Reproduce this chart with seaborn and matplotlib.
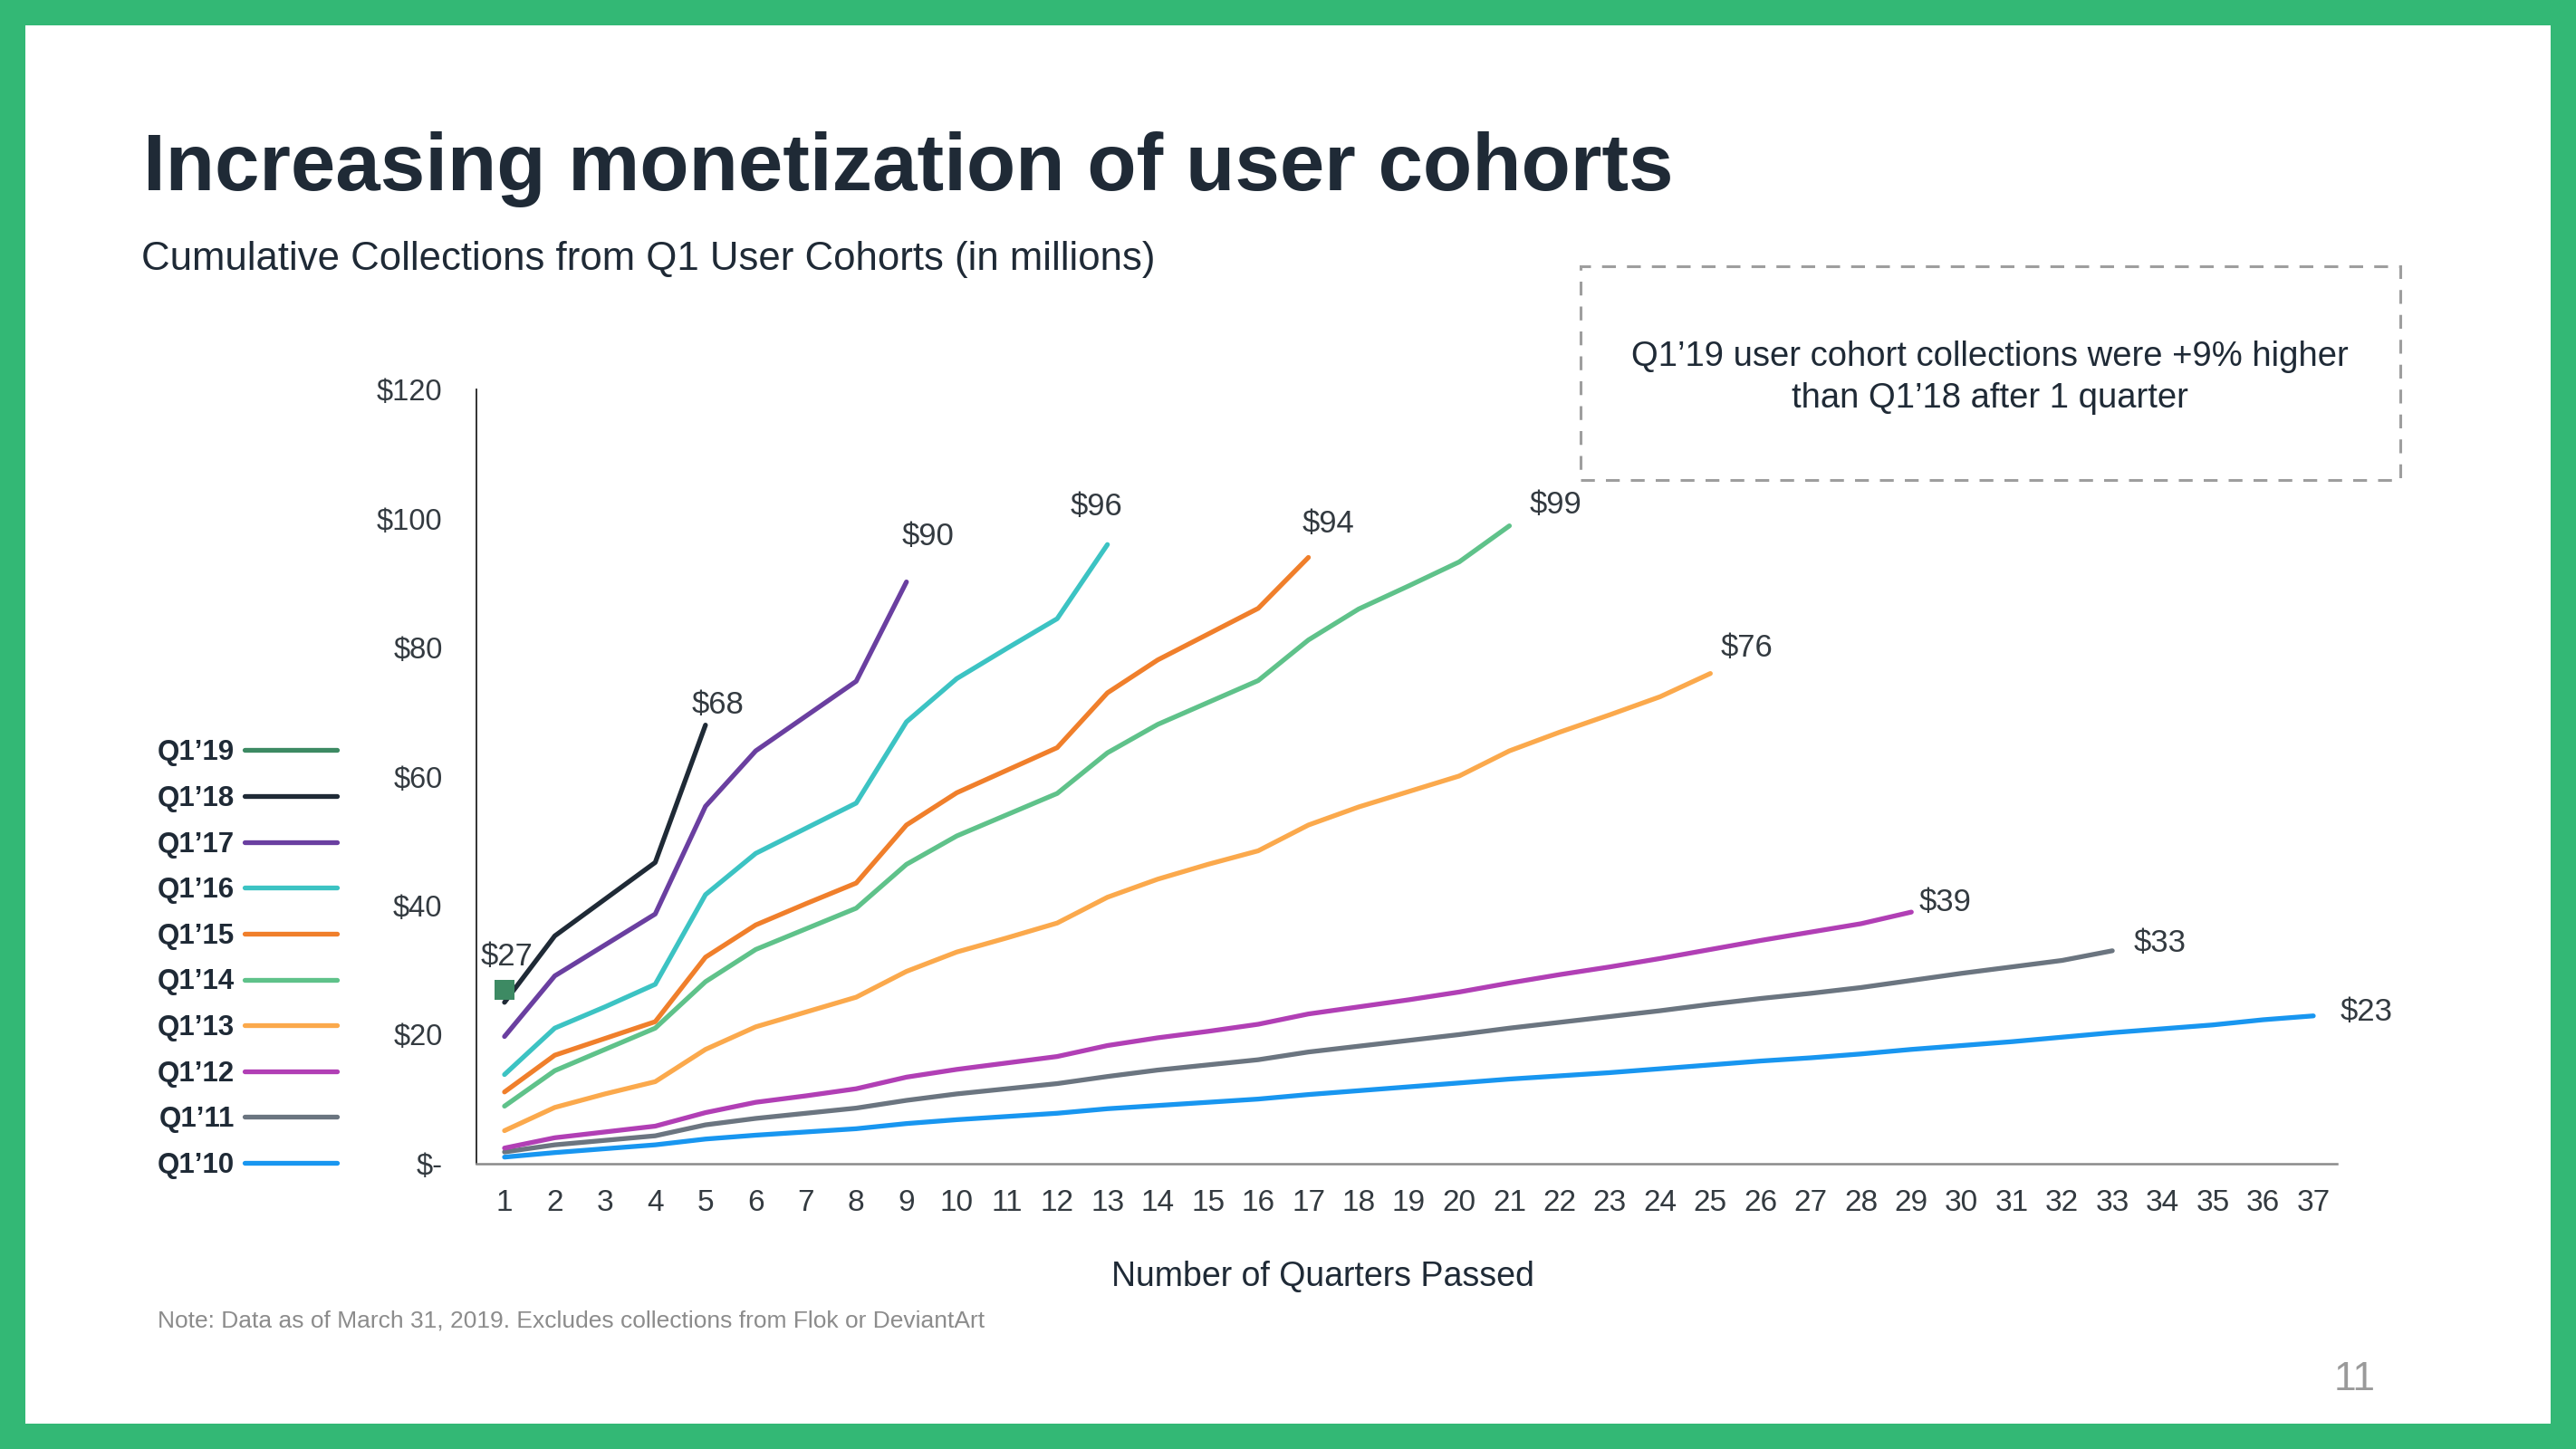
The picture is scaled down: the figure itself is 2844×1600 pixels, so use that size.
import matplotlib
matplotlib.use("Agg")
import matplotlib.pyplot as plt
from matplotlib.lines import Line2D
from matplotlib.patches import Rectangle
from matplotlib.ticker import FuncFormatter
import seaborn as sns
import pandas as pd

# cumulative collections ($M) by quarters passed
cohorts = ["Q1’19", "Q1’18", "Q1’17", "Q1’16", "Q1’15",
           "Q1’14", "Q1’13", "Q1’12", "Q1’11", "Q1’10"]
colors = ["#3d8a63", "#1f2a36", "#6a3fa0", "#3cc3c3", "#f07f2b",
          "#5fc28a", "#fba94c", "#b13fb5", "#6b7580", "#1896f0"]

q1_19 = [27.0]
q1_18 = [25.0, 35.3, 41.0, 46.7, 68.0]
q1_17 = [19.7, 29.1, 33.9, 38.7, 55.4, 64.0, 69.4, 74.8, 90.2]
q1_16 = [13.8, 21.0, 24.3, 27.8, 41.7, 48.1, 52.0, 55.9, 68.5, 75.2, 79.9, 84.5, 96.0]
q1_15 = [11.1, 16.8, 19.4, 22.0, 32.0, 37.0, 40.3, 43.5, 52.5, 57.5, 61.0, 64.5,
         73.0, 78.1, 82.1, 86.1, 94.0]
q1_14 = [8.9, 14.4, 17.7, 21.0, 28.2, 33.2, 36.4, 39.6, 46.4, 50.8, 54.1, 57.4,
         63.7, 68.1, 71.5, 74.9, 81.2, 86.0, 89.6, 93.3, 98.9]
q1_13 = [5.1, 8.7, 10.8, 12.7, 17.7, 21.2, 23.5, 25.8, 29.8, 32.8, 35.0, 37.3,
         41.3, 44.1, 46.4, 48.5, 52.5, 55.3, 57.7, 60.1, 64.0, 66.9, 69.6, 72.4, 76.0]
q1_12 = [2.4, 4.0, 4.9, 5.8, 7.9, 9.5, 10.5, 11.6, 13.4, 14.6, 15.6, 16.6,
         18.3, 19.5, 20.5, 21.6, 23.2, 24.3, 25.4, 26.6, 28.0, 29.3, 30.5, 31.8,
         33.2, 34.6, 35.9, 37.2, 39.0]
q1_11 = [1.8, 2.9, 3.6, 4.3, 6.0, 7.0, 7.8, 8.6, 9.8, 10.8, 11.6, 12.4,
         13.5, 14.5, 15.3, 16.1, 17.3, 18.2, 19.1, 20.0, 21.0, 21.9, 22.8, 23.7,
         24.7, 25.6, 26.4, 27.3, 28.4, 29.5, 30.5, 31.5, 33.0]
q1_10 = [1.0, 1.7, 2.3, 2.9, 3.8, 4.4, 4.9, 5.4, 6.2, 6.8, 7.3, 7.8,
         8.5, 9.0, 9.5, 10.0, 10.7, 11.3, 11.9, 12.5, 13.1, 13.6, 14.1, 14.7,
         15.3, 15.9, 16.4, 17.0, 17.7, 18.3, 18.9, 19.6, 20.3, 20.9, 21.5, 22.3, 22.9]

series = [q1_19, q1_18, q1_17, q1_16, q1_15, q1_14, q1_13, q1_12, q1_11, q1_10]
y_ticks = [0, 20, 40, 60, 80, 100, 120]

# end-label offsets in points
label_offsets = [(2, 26), (10, 16), (17, 36), (-9, 30), (16, 27),
                 (37, 17), (29, 20), (27, 8), (38, 6), (42, 3)]

rows = []
for name, vals in zip(cohorts, series):
    for i, v in enumerate(vals):
        rows.append({"cohort": name, "quarter": i + 1, "value": v})
df = pd.DataFrame(rows)
palette = dict(zip(cohorts, colors))

sns.set_style("white")
plt.rcParams["font.family"] = ["Liberation Sans", "DejaVu Sans"]

NAVY = "#1f2a36"
fig = plt.figure(figsize=(28.44, 16), dpi=100)
fig.patch.set_facecolor("#33b875")
fig.patches.append(Rectangle((28 / 2844, 28 / 1600), 1 - 56 / 2844, 1 - 56 / 1600,
                             transform=fig.transFigure, facecolor="white",
                             edgecolor="none", zorder=-5))

ax = fig.add_axes([0.185, 0.197, 0.722, 0.534])
ax.set_facecolor("none")

lines_df = df[df["cohort"] != "Q1’19"]
sns.lineplot(data=lines_df, x="quarter", y="value", hue="cohort",
             hue_order=cohorts[1:][::-1], palette=palette, linewidth=3.8,
             estimator=None, sort=False, legend=False, ax=ax)
sns.scatterplot(data=df[df["cohort"] == "Q1’19"], x="quarter", y="value",
                color=colors[0], marker="s", s=240, linewidth=0, legend=False,
                ax=ax, zorder=5)

for name, vals, off in zip(cohorts, series, label_offsets):
    ax.annotate(f"${round(vals[-1])}", xy=(len(vals), vals[-1]), xytext=off,
                textcoords="offset points", ha="center", va="center",
                fontsize=25, color="#333a40")

ax.set_xlim(0.444, 37.46)
ax.set_ylim(0, 120)
ax.set_xticks(range(1, 38))
ax.set_yticks(y_ticks)
ax.yaxis.set_major_formatter(FuncFormatter(lambda v, p: "$-" if v == 0 else f"${v:.0f}"))
ax.tick_params(axis="y", length=0, pad=27, labelsize=23.5, labelcolor="#333a40")
ax.tick_params(axis="x", length=0, pad=20, labelsize=24, labelcolor="#333a40")
ax.set_xlabel("")
ax.set_ylabel("")
for s in ["top", "right"]:
    ax.spines[s].set_visible(False)
ax.spines["left"].set_color("#222222")
ax.spines["left"].set_linewidth(1.3)
ax.spines["bottom"].set_color("#8a8a8a")
ax.spines["bottom"].set_linewidth(1.8)

# legend (top to bottom Q1'19 .. Q1'10)
handles = [Line2D([0], [0], color=c, linewidth=3.8) for c in colors]
leg = fig.legend(handles, cohorts, loc="upper left", bbox_to_anchor=(96 / 1568, 1 - 450 / 882),
                 frameon=False, markerfirst=False, handlelength=3.25, handletextpad=0.35,
                 labelspacing=0.66, borderpad=0, borderaxespad=0,
                 prop={"size": 22.5, "weight": "bold"})
for t in leg.get_texts():
    t.set_color(NAVY)

fig.text(87 / 1568, 1 - 103 / 882, "Increasing monetization of user cohorts",
         fontsize=64, fontweight="bold", color=NAVY, va="center", ha="left")
fig.text(86 / 1568, 1 - 158 / 882, "Cumulative Collections from Q1 User Cohorts (in millions)",
         fontsize=31.5, color=NAVY, va="center", ha="left")
fig.text(805 / 1568, 1 - 777 / 882, "Number of Quarters Passed",
         fontsize=27, color=NAVY, va="center", ha="center")
fig.text(96 / 1568, 1 - 804 / 882,
         "Note: Data as of March 31, 2019. Excludes collections from Flok or DeviantArt",
         fontsize=19, color="#8c8c8c", va="center", ha="left")
fig.text(1433 / 1568, 1 - 840 / 882, "11", fontsize=32, color="#9a9a9a",
         va="center", ha="center")

# callout box
fig.patches.append(Rectangle((962 / 1568, 1 - 292 / 882), 499 / 1568, 130 / 882,
                             transform=fig.transFigure, facecolor="none",
                             edgecolor="#9e9e9e", linewidth=2.2, linestyle=(0, (5, 4))))
fig.text(1211 / 1568, 1 - 230 / 882,
         "Q1’19 user cohort collections were +9% higher\nthan Q1’18 after 1 quarter",
         fontsize=27.5, color=NAVY, ha="center", va="center", linespacing=1.34)

fig.savefig("out.png", dpi=100, facecolor=fig.get_facecolor())
